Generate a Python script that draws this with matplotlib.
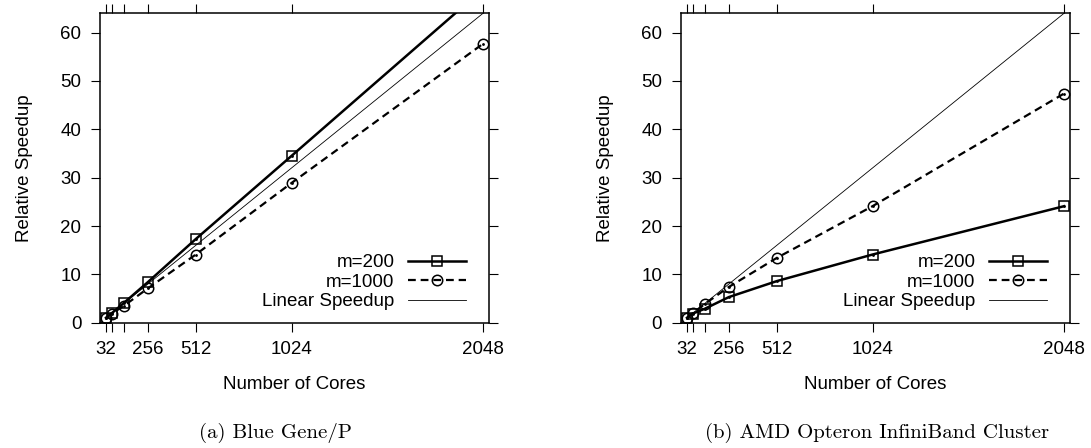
import matplotlib
matplotlib.use('Agg')
import matplotlib.pyplot as plt

plt.rcParams['font.family'] = ['Liberation Sans', 'DejaVu Sans']
plt.rcParams['font.size'] = 13.5

# число ядер и ускорения
cores = [32, 64, 128, 256, 512, 1024, 2048]
tick_labels = ['32', '', '', '256', '512', '1024', '2048']
linear = [1, 2, 4, 8, 16, 32, 64]

bgp_m200 = [1.0, 2.0, 4.1, 8.4, 17.3, 34.5, 69.0]
bgp_m1000 = [1.0, 1.9, 3.5, 7.1, 14.1, 28.9, 57.7]

amd_m200 = [1.0, 1.9, 2.9, 5.3, 8.6, 14.1, 24.1]
amd_m1000 = [1.0, 2.0, 3.9, 7.4, 13.4, 24.1, 47.4]

captions = ['(a) Blue Gene/P', '(b) AMD Opteron InfiniBand Cluster']

W, H = 1091, 448
fig = plt.figure(figsize=(W / 100, H / 100), dpi=100)


def make_panel(left_px, m200, m1000):
    ax = fig.add_axes([left_px / W, 1 - 322.7 / H, 389 / W, 309.4 / H])
    ax.plot(cores, m200, color='black', lw=1.8, marker='s', ms=7.5,
            mfc='none', mew=1.1, label='m=200')
    ax.plot(cores, m1000, color='black', lw=1.6, ls=(0, (3.5, 2.2)), marker='o',
            ms=7.5, mfc='none', mew=1.1, label='m=1000')
    ax.plot(cores, linear, color='black', lw=0.6, label='Linear Speedup')
    # точки в центре маркеров, как в gnuplot
    ax.plot(cores, m200, ls='none', marker='.', ms=2, color='black')
    ax.plot(cores, m1000, ls='none', marker='.', ms=2, color='black')

    ax.set_xlim(0, 2080)
    ax.set_ylim(0, 64)
    ax.set_xticks(cores)
    ax.set_xticklabels(tick_labels)
    ax.set_yticks(range(0, 61, 10))
    ax.tick_params(direction='out', length=6.5, width=0.8, top=True, right=True,
                   pad=7)
    for s in ax.spines.values():
        s.set_linewidth(1.1)
    ax.set_xlabel('Number of Cores')
    ax.set_ylabel('Relative Speedup')
    ax.xaxis.set_label_coords(0.5, -0.172)
    ax.yaxis.set_label_coords(-0.172, 0.5)
    ax.legend(loc='lower right', bbox_to_anchor=(0.94, 0.04), markerfirst=False,
              frameon=False, handlelength=3.1, handletextpad=0.7,
              labelspacing=0.13, borderpad=0, borderaxespad=0, numpoints=1)
    return ax


make_panel(100, bgp_m200, bgp_m1000)
make_panel(681, amd_m200, amd_m1000)

fig.text(275 / W, 1 - 433 / H, captions[0], family='cmr10', fontsize=15,
         ha='center', va='center')
fig.text(877 / W, 1 - 433 / H, captions[1], family='cmr10', fontsize=15,
         ha='center', va='center')

fig.savefig('out.png', dpi=100)
